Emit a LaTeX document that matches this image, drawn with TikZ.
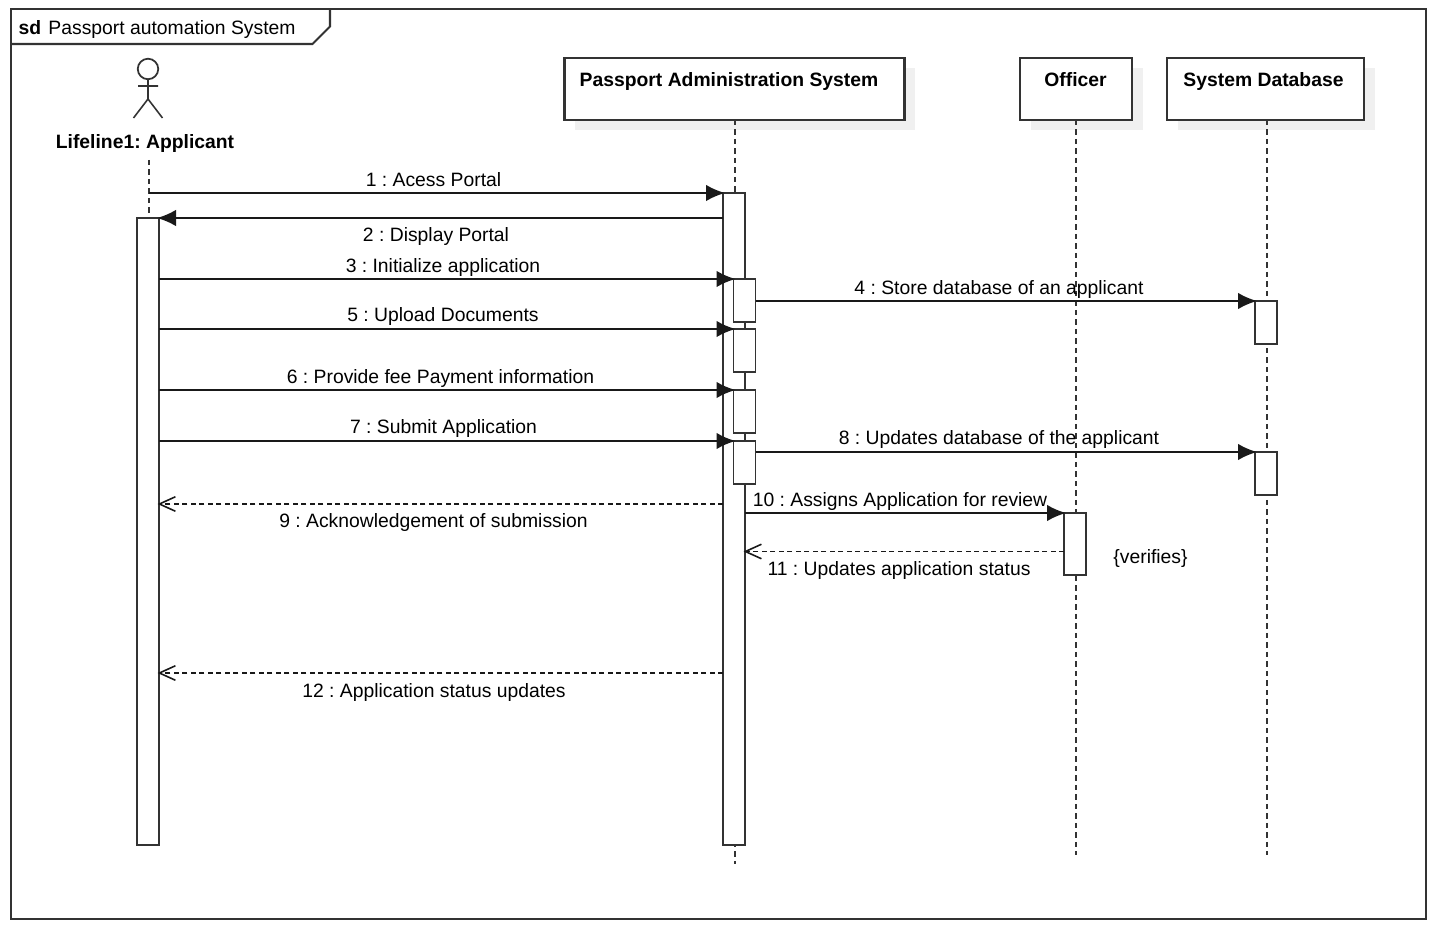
\documentclass[tikz,border=0pt]{standalone}
\usepackage{fontspec}
\setmainfont{Liberation Sans}
\usetikzlibrary{arrows.meta,shadows}
\definecolor{edgegray}{HTML}{333333}
\frenchspacing

\begin{document}
\begin{tikzpicture}
  [x=1cm,y=-1cm,
   lifebox/.style={rectangle,draw=edgegray,fill=white,line width=0.6pt,inner sep=0,outer sep=0,
     drop shadow={shadow xshift=0.105cm,shadow yshift=-0.105cm,fill=black!6,opacity=1}},
   act/.style={rectangle,draw=edgegray,fill=white,line width=0.55pt,inner sep=0,outer sep=0,minimum width=0.22cm},
   msg/.style={anchor=base,inner sep=0,font=\fontsize{5.5}{7}\selectfont},
   title/.style={msg,font=\fontsize{5.5}{7}\selectfont\bfseries},
   life/.style={draw=edgegray,line width=0.55pt,dash pattern=on 0.055cm off 0.04cm},
   sync/.style={draw=black!90,line width=0.55pt,shorten >=-0.02cm,-{Latex[length=0.19cm,width=0.165cm]}},
   reply/.style={draw=black!90,line width=0.5pt,shorten >=-0.015cm,dash pattern=on 0.05cm off 0.035cm,
     -{Straight Barb[length=0.16cm,width=0.145cm,line width=0.45pt]}},
  ]
  \useasboundingbox (0,0) rectangle (14.36,9.42);

  % frame
  \draw[edgegray,line width=0.6pt] (0.11,0.09) rectangle (14.26,9.19);
  \draw[edgegray,line width=0.6pt] (0.11,0.44) -- (3.125,0.44) -- (3.30,0.265) -- (3.30,0.09);
  \node[title] (sd) at (0.30,0.345) {sd};
  \node[msg] (frametitle) at (1.72,0.345) {Passport automation System};

  % actor
  \node[circle,draw=edgegray,line width=0.5pt,inner sep=0,outer sep=0,minimum size=0.205cm] (head) at (1.48,0.69) {};
  \coordinate (hip) at (1.48,0.99);
  \coordinate (armL) at (1.38,0.86);
  \coordinate (armR) at (1.58,0.86);
  \coordinate (footL) at (1.335,1.18);
  \coordinate (footR) at (1.625,1.18);
  \draw[edgegray,line width=0.45pt] (head.south) -- (hip) (armL) -- (armR) (footL) -- (hip) -- (footR);
  \node[title] (applicant) at (1.45,1.485) {Lifeline1: Applicant};

  % lifeline heads
  \node[lifebox,minimum width=3.40cm,minimum height=0.62cm] (admin) at (7.345,0.89) {};
  \node[lifebox,minimum width=1.12cm,minimum height=0.62cm] (officer) at (10.76,0.89) {};
  \node[lifebox,minimum width=1.97cm,minimum height=0.62cm] (database) at (12.655,0.89) {};
  \node[title] (admintext) at (7.29,0.87) {Passport Administration System};
  \node[title] (officertext) at (10.755,0.87) {Officer};
  \node[title] (databasetext) at (12.635,0.87) {System Database};

  % lifelines
  \coordinate (appTop) at (1.49,1.60);
  \coordinate (appFrom) at (1.49,1.93);
  \coordinate (adminEnd) at (7.35,8.64);
  \coordinate (officerEnd) at (10.76,8.55);
  \coordinate (databaseEnd) at (12.67,8.55);
  \path[life] (appTop) -- (1.49,2.18);
  \path[life] (admin.south -| adminEnd) -- (adminEnd);
  \path[life] (officer.south) -- (officerEnd);
  \path[life] (database.south -| databaseEnd) -- (databaseEnd);

  % activations
  \node[act,minimum height=6.27cm] (app) at (1.48,5.315) {};
  \node[act,minimum height=6.52cm] (adm) at (7.34,5.19) {};
  \node[act,minimum height=0.43cm] (a1) at (7.445,3.005) {};
  \node[act,minimum height=0.43cm] (a2) at (7.445,3.505) {};
  \node[act,minimum height=0.43cm] (a3) at (7.445,4.115) {};
  \node[act,minimum height=0.43cm] (a4) at (7.445,4.625) {};
  \node[act,minimum height=0.43cm] (db1) at (12.66,3.225) {};
  \node[act,minimum height=0.43cm] (db2) at (12.66,4.735) {};
  \node[act,minimum height=0.62cm] (off) at (10.75,5.44) {};

  % messages
  \coordinate (ret9) at (4,5.04);
  \coordinate (ret11) at (9,5.515);
  \coordinate (ret12) at (4,6.73);
  \path[sync] (appFrom) -- (adm.north west);
  \path[sync] (adm.west |- app.north) -- (app.north east);
  \path[sync] (app.east |- a1.north) -- (a1.north west);
  \path[sync] (a1.east |- db1.north) -- (db1.north west);
  \path[sync] (app.east |- a2.north) -- (a2.north west);
  \path[sync] (app.east |- a3.north) -- (a3.north west);
  \path[sync] (app.east |- a4.north) -- (a4.north west);
  \path[sync] (a4.east |- db2.north) -- (db2.north west);
  \path[reply] (adm.west |- ret9) -- (app.east |- ret9);
  \path[sync] (adm.east |- off.north) -- (off.north west);
  \path[reply] (off.west |- ret11) -- (adm.east |- ret11);
  \path[reply] (adm.west |- ret12) -- (app.east |- ret12);

  \node[msg] (m1) at (4.335,1.87) {1 : Acess Portal};
  \node[msg] (m2) at (4.36,2.42) {2 : Display Portal};
  \node[msg] (m3) at (4.43,2.73) {3 : Initialize application};
  \node[msg] (m4) at (9.99,2.95) {4 : Store database of an applicant};
  \node[msg] (m5) at (4.43,3.22) {5 : Upload Documents};
  \node[msg] (m6) at (4.405,3.835) {6 : Provide fee Payment information};
  \node[msg] (m7) at (4.435,4.335) {7 : Submit Application};
  \node[msg] (m8) at (9.99,4.445) {8 : Updates database of the applicant};
  \node[msg] (m9) at (4.335,5.275) {9 : Acknowledgement of submission};
  \node[msg] (m10) at (9.00,5.06) {10 : Assigns Application for review};
  \node[msg] (m11) at (8.99,5.75) {11 : Updates application status};
  \node[msg] (m12) at (4.34,6.975) {12 : Application status updates};
  \node[msg] (verifies) at (11.505,5.63) {\{verifies\}};

\end{tikzpicture}
\end{document}
